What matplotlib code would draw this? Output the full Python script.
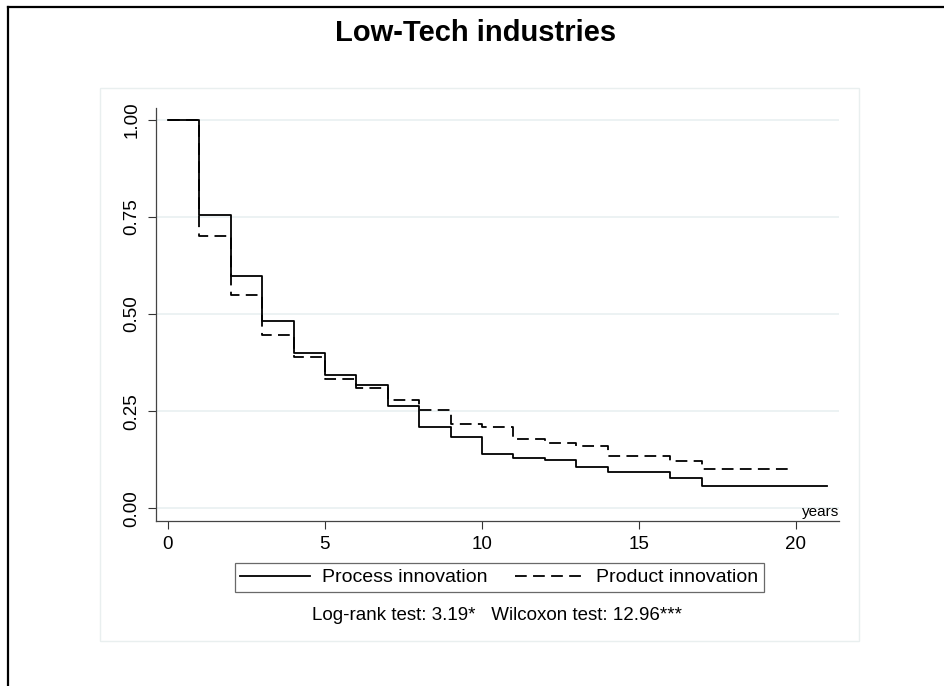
import matplotlib
matplotlib.use("Agg")
import matplotlib.pyplot as plt
from matplotlib.lines import Line2D
from matplotlib.patches import Rectangle

# survival estimates (step functions, value holds until next time)
process_t = [0, 1, 2, 3, 4, 5, 6, 7, 8, 9, 10, 11, 12, 13, 14, 16, 17, 21]
process_s = [1.0, 0.756, 0.599, 0.481, 0.400, 0.344, 0.317, 0.262, 0.208,
             0.183, 0.140, 0.129, 0.124, 0.106, 0.092, 0.079, 0.057, 0.057]

product_t = [0, 1, 2, 3, 4, 5, 6, 7, 8, 9, 10, 11, 12, 13, 14, 16, 17, 19.8]
product_s = [1.0, 0.700, 0.548, 0.447, 0.390, 0.334, 0.309, 0.279, 0.254,
             0.218, 0.208, 0.178, 0.169, 0.161, 0.134, 0.121, 0.102, 0.102]

x_ticks = [0, 5, 10, 15, 20]
y_ticks = [0.0, 0.25, 0.5, 0.75, 1.0]
y_tick_labels = ["0.00", "0.25", "0.50", "0.75", "1.00"]

labels = ["Process innovation", "Product innovation"]
title = "Low-Tech industries"
note = "Log-rank test: 3.19*   Wilcoxon test: 12.96***"


def px(x, y):
    # pixel position -> figure fraction
    return x / 945, 1 - y / 686


def plot():
    plt.rcParams["font.family"] = ["Liberation Sans", "DejaVu Sans"]
    fig = plt.figure(figsize=(9.45, 6.86), dpi=100)

    l, b = px(156, 521)
    r, t = px(839, 108)
    ax = fig.add_axes([l, b, r - l, t - b])

    dash = (0, (6.5, 3.5))
    ax.step(process_t, process_s, where="post", color="black", linewidth=1.3)
    ax.step(product_t, product_s, where="post", color="black", linewidth=1.3,
            linestyle=dash)

    ax.set_xlim(-0.38, 21.37)
    ax.set_ylim(-0.033, 1.031)

    ax.set_xticks(x_ticks)
    ax.set_yticks(y_ticks)
    ax.set_yticklabels(y_tick_labels, rotation=90, va="center")
    ax.tick_params(axis="both", length=6, width=0.8, color="#333333",
                   labelsize=13.5, pad=5)

    ax.grid(axis="y", color="#eaf1f2", linewidth=1.3)
    ax.set_axisbelow(True)
    for side in ["top", "right"]:
        ax.spines[side].set_visible(False)
    for side in ["left", "bottom"]:
        ax.spines[side].set_color("#444444")
        ax.spines[side].set_linewidth(0.9)

    ax.annotate("years", xy=(1, 0), xycoords="axes fraction",
                xytext=(0, 3.5), textcoords="offset points",
                ha="right", va="baseline", fontsize=11)

    # outer graph region box
    x0, y0 = px(100, 641)
    x1, y1 = px(859, 88)
    fig.patches.append(Rectangle((x0, y0), x1 - x0, y1 - y0, transform=fig.transFigure,
                                 fill=False, edgecolor="#e9efef", linewidth=1))

    # page frame (top and left)
    fx, fy = px(7.8, 6.5)
    fig.add_artist(Line2D([fx, 1], [fy, fy], color="black", linewidth=1.6,
                          transform=fig.transFigure))
    fig.add_artist(Line2D([fx, fx], [0, fy], color="black", linewidth=1.6,
                          transform=fig.transFigure))

    tx, ty = px(476, 41)
    fig.text(tx, ty, title, ha="center", va="baseline", fontsize=21,
             fontweight="bold")

    handles = [Line2D([], [], color="black", linewidth=1.3),
               Line2D([], [], color="black", linewidth=1.3, linestyle=dash)]
    lx, ly = px(499.5, 563)
    leg = fig.legend(handles, labels, loc="upper center", bbox_to_anchor=(lx, ly),
                     ncol=2, fontsize=14, frameon=True, fancybox=False,
                     edgecolor="#444444", handlelength=3.6, handletextpad=0.6,
                     columnspacing=1.4, borderpad=0.3, borderaxespad=0)
    leg.get_frame().set_linewidth(0.9)

    nx, ny = px(497, 620)
    fig.text(nx, ny, note, ha="center", va="baseline", fontsize=13.5)

    fig.savefig("out.png", dpi=100)


if __name__ == "__main__":
    plot()
